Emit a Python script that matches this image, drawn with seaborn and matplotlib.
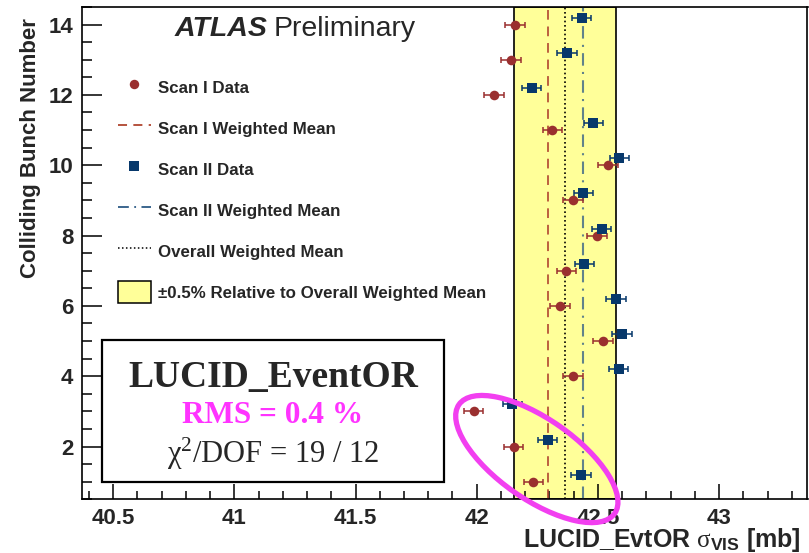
import numpy as np
import pandas as pd
import matplotlib
matplotlib.use("Agg")
import matplotlib.pyplot as plt
import seaborn as sns
from matplotlib.patches import Rectangle, Ellipse
from matplotlib.lines import Line2D
from matplotlib.transforms import ScaledTranslation
from matplotlib.ticker import MultipleLocator, FormatStrFormatter

# ---- data -------------------------------------------------------------
bunch = [1, 2, 3, 4, 5, 6, 7, 8, 9, 10, 11, 12, 13, 14]
scan1_sigma = [42.234, 42.153, 41.988, 42.397, 42.521, 42.344, 42.370,
               42.496, 42.397, 42.541, 42.312, 42.071, 42.142, 42.158]
scan1_err = [0.040, 0.040, 0.040, 0.040, 0.040, 0.040, 0.040,
             0.040, 0.040, 0.040, 0.040, 0.040, 0.040, 0.040]
scan2_sigma = [42.430, 42.293, 42.147, 42.586, 42.600, 42.574, 42.444,
               42.516, 42.440, 42.589, 42.481, 42.227, 42.373, 42.433]
scan2_err = [0.040, 0.040, 0.040, 0.040, 0.040, 0.040, 0.040,
             0.040, 0.040, 0.040, 0.040, 0.040, 0.040, 0.040]
scan1_mean = 42.293
scan2_mean = 42.439
overall_mean = 42.365
band_fraction = 0.005
x_ticks = [40.5, 41.0, 41.5, 42.0, 42.5, 43.0]
y_ticks = [2, 4, 6, 8, 10, 12, 14]
legend_labels = ["Scan I Data", "Scan I Weighted Mean", "Scan II Data",
                 "Scan II Weighted Mean", "Overall Weighted Mean",
                 "\u00b10.5% Relative to Overall Weighted Mean"]
box_title = "LUCID_EventOR"
rms_text = "RMS = 0.4 %"
chi2_text = r"$\mathrm{\chi}^{2}$/DOF = 19 / 12"

# ---- style ------------------------------------------------------------
sns.set_style("ticks")
plt.rcParams["font.family"] = ["Liberation Sans", "DejaVu Sans"]
plt.rcParams["mathtext.fontset"] = "custom"
plt.rcParams["mathtext.rm"] = "Liberation Serif"
plt.rcParams["mathtext.it"] = "Liberation Serif:italic"
plt.rcParams["mathtext.bf"] = "Liberation Sans:bold"

RED = "#9a2f2f"
BLUE = "#07386b"
RED_LINE = "#b0452f"
BLUE_LINE = "#2c5a86"
BAND = "#ffff99"
MAGENTA = "#f23ff0"

W, H = 809, 553
fig = plt.figure(figsize=(W / 100, H / 100), dpi=100)
ax_l, ax_r, ax_t, ax_b = 81.7, 807.5, 7.0, 499.3
ax = fig.add_axes([ax_l / W, 1 - ax_b / H, (ax_r - ax_l) / W, (ax_b - ax_t) / H])

def fx(px):
    return px / W

def fy(py):
    return 1 - py / H

# ---- band and mean lines ---------------------------------------------
lo = overall_mean * (1 - band_fraction)
hi = overall_mean * (1 + band_fraction)
ax.axvspan(lo, hi, facecolor=BAND, edgecolor="black", lw=1.2, zorder=0)
ax.axvline(scan1_mean, color=RED_LINE, lw=1.4, ls=(0, (5, 3.5)), alpha=0.85, zorder=1)
ax.axvline(scan2_mean, color=BLUE_LINE, lw=1.5, ls=(0, (6, 3, 1, 3)), alpha=0.75, zorder=1)
ax.axvline(overall_mean, color="black", lw=1.2, ls=(0, (1, 1.6)), zorder=1)

# ---- data points ------------------------------------------------------
df1 = pd.DataFrame({"sigma": scan1_sigma, "pos": bunch, "err": scan1_err})
df2 = pd.DataFrame({"sigma": scan2_sigma, "pos": np.array(bunch) + 0.2, "err": scan2_err})

ax.errorbar(df1["sigma"], df1["pos"], xerr=df1["err"], fmt="none", ecolor=RED,
            elinewidth=1.1, capsize=2.3, capthick=1.1, zorder=4)
ax.errorbar(df2["sigma"], df2["pos"], xerr=df2["err"], fmt="none", ecolor=BLUE,
            elinewidth=1.1, capsize=2.3, capthick=1.1, zorder=4)
sns.scatterplot(data=df1, x="sigma", y="pos", marker="o", color=RED, s=48,
                linewidth=0, legend=False, ax=ax, zorder=5)
sns.scatterplot(data=df2, x="sigma", y="pos", marker="s", color=BLUE, s=55,
                linewidth=0, legend=False, ax=ax, zorder=5)

# ---- axes -------------------------------------------------------------
ax.set_xlim(40.37, 43.365)
ax.set_ylim(0.5, 14.5)
ax.set_xticks(x_ticks)
ax.set_yticks(y_ticks)
ax.xaxis.set_minor_locator(MultipleLocator(0.1))
ax.yaxis.set_minor_locator(MultipleLocator(0.5))
ax.xaxis.set_major_formatter(FormatStrFormatter("%g"))
ax.tick_params(axis="both", which="both", direction="in", color="black",
               width=1.1, top=False, right=False)
ax.tick_params(axis="x", which="major", length=11, pad=6)
ax.tick_params(axis="x", which="minor", length=5.5)
ax.tick_params(axis="y", which="major", length=14.5, pad=6)
ax.tick_params(axis="y", which="minor", length=7.5)
for lab in ax.get_xticklabels() + ax.get_yticklabels():
    lab.set_fontsize(16)
    lab.set_fontweight("bold")
for sp in ax.spines.values():
    sp.set_color("black")
    sp.set_linewidth(1.2)
    sp.set_visible(True)

ax.set_ylabel("Colliding Bunch Number", fontsize=16, fontweight="bold", loc="top")
ax.yaxis.set_label_coords(-0.056, 0.978)
ax.set_xlabel(r"LUCID_EvtOR $\mathrm{\sigma}_{\mathbf{VIS}}$ [mb]", fontsize=18,
              fontweight="bold", loc="right")
ax.xaxis.set_label_coords((801 - ax_l) / (ax_r - ax_l), -0.054)

# ---- legend -----------------------------------------------------------
handles = [
    Line2D([], [], ls="none", marker="o", color=RED, markersize=6.8, markeredgewidth=0),
    Line2D([], [], color=RED_LINE, lw=1.3, ls=(0, (5, 3.5))),
    Line2D([], [], ls="none", marker="s", color=BLUE, markersize=7.2, markeredgewidth=0),
    Line2D([], [], color=BLUE_LINE, lw=1.3, ls=(0, (6, 3, 1, 3))),
    Line2D([], [], color="black", lw=1.1, ls=(0, (1, 1.6))),
    Rectangle((0, 0), 1, 1, facecolor=BAND, edgecolor="black", lw=1.1),
]
ax.legend(handles, legend_labels, loc="upper left",
          bbox_to_anchor=(fx(118), fy(76)), bbox_transform=fig.transFigure,
          frameon=False, prop={"size": 12.2, "weight": "bold"},
          handlelength=1.92, handleheight=1.68, labelspacing=1.08,
          handletextpad=0.42, borderpad=0, borderaxespad=0)

# ---- ATLAS label ------------------------------------------------------
fig.text(fx(175), fy(36), "ATLAS", fontsize=20.5, fontweight="bold", style="italic",
         va="baseline", ha="left")
fig.text(fx(274), fy(36), "Preliminary", fontsize=20.5, va="baseline", ha="left")

# ---- summary box ------------------------------------------------------
box = Rectangle((fx(102), fy(482)), fx(444) - fx(102), fy(340) - fy(482),
                transform=fig.transFigure, facecolor="white", edgecolor="black",
                lw=1.6, zorder=8)
fig.add_artist(box)
cx = fx(273)
fig.text(cx, fy(387), box_title, fontsize=27, fontweight="bold",
         family="Liberation Serif", ha="center", va="baseline", zorder=9)
fig.text(cx, fy(423), rms_text, fontsize=22.5, fontweight="bold", color="#ff33ff",
         family="Liberation Serif", ha="center", va="baseline", zorder=9)
fig.text(cx, fy(463), chi2_text, fontsize=22, family="Liberation Serif",
         ha="center", va="baseline", zorder=9)

# ---- highlight ellipse ------------------------------------------------
ell = Ellipse((0, 0), width=1.90, height=0.80, angle=-35, fill=False,
              edgecolor=MAGENTA, lw=3.8, clip_on=False, zorder=10,
              transform=fig.dpi_scale_trans + ScaledTranslation(42.248, 1.645, ax.transData))
ax.add_artist(ell)

fig.savefig("out.png", dpi=100)
